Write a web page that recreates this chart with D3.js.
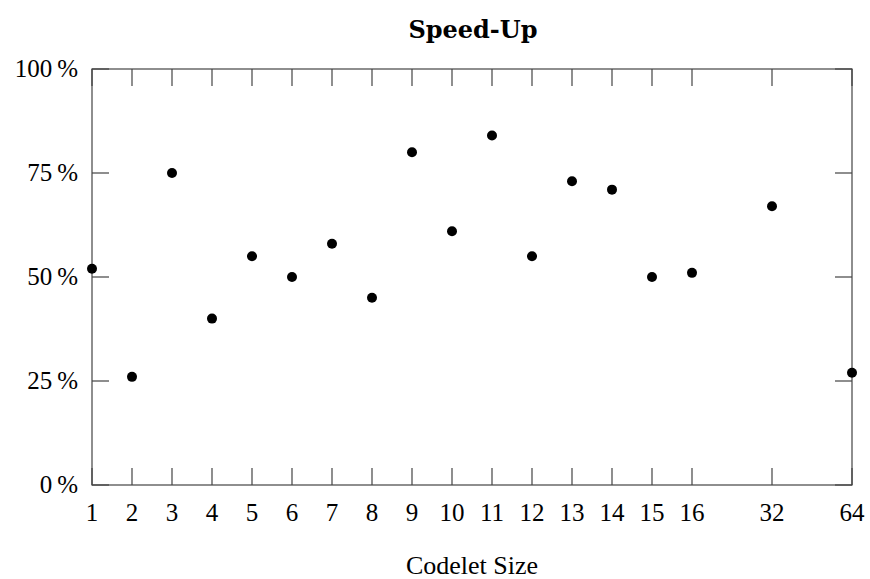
<!DOCTYPE html>
<html><head><meta charset="utf-8">
<script src="https://cdn.jsdelivr.net/npm/d3@7"></script>
<style>body{margin:0;background:#fff}text{font-family:"Liberation Serif",serif;fill:#000}</style>
</head><body><svg id="c" width="870" height="579"></svg>
<script>
const categories = ["1","2","3","4","5","6","7","8","9","10","11","12","13","14","15","16","32","64"];
const slots = [0,1,2,3,4,5,6,7,8,9,10,11,12,13,14,15,17,19];
const speedup = [52,26,75,40,55,50,58,45,80,61,84,55,73,71,50,51,67,27];
const yTicks = [0,25,50,75,100];

const svg = d3.select("#c");
const L=92,R=852,T=69,B=485;
const x = d3.scaleLinear().domain([0,19]).range([L,R]);
const y = d3.scaleLinear().domain([0,100]).range([B,T]);
const stroke="#444", tl=17;

const g = svg.append("g");
g.append("rect").attr("x",L).attr("y",T).attr("width",R-L).attr("height",B-T)
 .attr("fill","none").attr("stroke",stroke).attr("stroke-width",1.2);

categories.forEach((c,i)=>{
  const px = x(slots[i]);
  g.append("line").attr("x1",px).attr("x2",px).attr("y1",B).attr("y2",B-tl).attr("stroke",stroke).attr("stroke-width",1.2);
  g.append("line").attr("x1",px).attr("x2",px).attr("y1",T).attr("y2",T+tl).attr("stroke",stroke).attr("stroke-width",1.2);
  g.append("text").attr("x",px).attr("y",B+36).attr("text-anchor","middle").attr("font-size",25).text(c);
});
yTicks.forEach(v=>{
  const py=y(v);
  g.append("line").attr("x1",L).attr("x2",L+tl).attr("y1",py).attr("y2",py).attr("stroke",stroke).attr("stroke-width",1.2);
  g.append("line").attr("x1",R).attr("x2",R-tl).attr("y1",py).attr("y2",py).attr("stroke",stroke).attr("stroke-width",1.2);
  g.append("text").attr("x",L-14).attr("y",py+8).attr("text-anchor","end").attr("font-size",25).text(v+"\u2009%");
});

g.selectAll("circle.pt").data(speedup).join("circle").attr("class","pt")
 .attr("cx",(d,i)=>x(slots[i])).attr("cy",d=>y(d)).attr("r",5).attr("fill","#000");

svg.append("text").attr("x",473).attr("y",38).attr("text-anchor","middle").attr("font-size",24)
 .attr("font-weight","bold").style("font-family","'DejaVu Serif',serif").text("Speed-Up");
svg.append("text").attr("x",472).attr("y",574).attr("text-anchor","middle").attr("font-size",26).text("Codelet Size");
</script></body></html>
